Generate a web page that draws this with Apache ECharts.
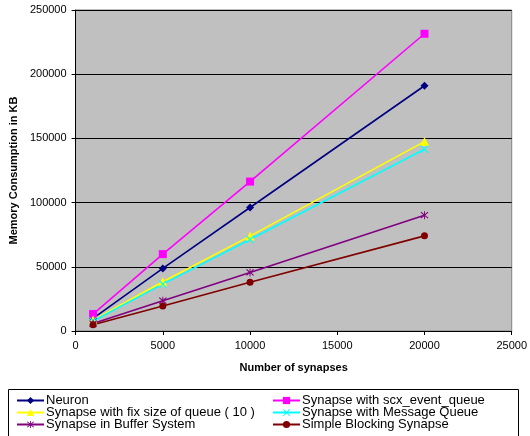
<!DOCTYPE html>
<html>
<head>
<meta charset="utf-8">
<style>
  html, body { margin: 0; padding: 0; background: #fff; }
  #chart { width: 530px; height: 436px; }
</style>
<script src="https://cdn.jsdelivr.net/npm/echarts@6/dist/echarts.min.js"></script>
</head>
<body>
<div id="chart"></div>
<script>
// Number of synapses measured
const synapses = [1000, 5000, 10000, 20000];

// Memory consumption (KB) per implementation
const neuron          = [9900, 48700, 96200, 191000];
const scxEventQueue   = [13200, 59900, 116400, 231500];
const fixSizeQueue    = [8500, 38300, 73900, 147500];
const messageQueue    = [7800, 36500, 71300, 141500];
const bufferSystem    = [5800, 23600, 45600, 90200];
const simpleBlocking  = [4900, 19400, 37900, 74100];

const seriesNames = [
  'Neuron',
  'Synapse with scx_event_queue',
  'Synapse with fix size of queue ( 10 )',
  'Synapse with Message Queue',
  'Synapse in Buffer System',
  'Simple Blocking Synapse'
];

const crossPath = 'path://M0,1 L1,0 L5,4 L9,0 L10,1 L6,5 L10,9 L9,10 L5,6 L1,10 L0,9 L4,5 Z';
const starPath = 'path://M0,1 L1,0 L5,4 L9,0 L10,1 L6,5 L10,9 L9,10 L5,6 L1,10 L0,9 L4,5 Z M4.4,-1 L5.6,-1 L5.6,11 L4.4,11 Z';

function pairs(values) {
  return synapses.map((x, i) => [x, values[i]]);
}

function lineSeries(name, values, color, symbol, size) {
  return {
    name: name,
    type: 'line',
    data: pairs(values),
    symbol: symbol,
    symbolSize: size,
    showSymbol: true,
    lineStyle: { color: color, width: 1.6 },
    itemStyle: { color: color, borderWidth: 0 },
    emphasis: { disabled: true },
    animation: false
  };
}

const fontFamily = 'Liberation Sans, Arial, sans-serif';
const textFont = { fontFamily: fontFamily, fontSize: 11, color: '#000' };

// One legend entry per slot: two columns, three rows
const legendCols = [16, 272];
const legendRows = [394, 406, 418];
const legends = seriesNames.map((name, i) => ({
  data: [name],
  left: legendCols[i % 2],
  top: legendRows[Math.floor(i / 2)],
  padding: 0,
  itemWidth: 27, itemHeight: 9,
  selectedMode: false,
  textStyle: { fontFamily: fontFamily, fontSize: 13, color: '#000', padding: [0, 0, 0, -3] }
}));

const chart = echarts.init(document.getElementById('chart'), null, { renderer: 'canvas' });

chart.setOption({
  backgroundColor: '#ffffff',
  animation: false,
  grid: {
    left: 71, right: 16, top: 10, bottom: 105,
    show: true,
    backgroundColor: '#C0C0C0',
    borderColor: '#808080',
    borderWidth: 1
  },
  xAxis: {
    type: 'value',
    min: 0, max: 25000, interval: 5000,
    name: 'Number of synapses',
    nameLocation: 'middle',
    nameGap: 31,
    nameTextStyle: Object.assign({}, textFont, { fontWeight: 'bold' }),
    axisLine: { show: true, lineStyle: { color: '#000', width: 1 } },
    axisTick: { show: true, inside: false, length: 4, lineStyle: { color: '#000' } },
    axisLabel: Object.assign({ margin: 9, formatter: v => String(v) }, textFont),
    splitLine: { show: false }
  },
  yAxis: {
    type: 'value',
    min: 0, max: 250000, interval: 50000,
    name: 'Memory Consumption in KB',
    nameLocation: 'middle',
    nameGap: 44,
    nameTextStyle: Object.assign({}, textFont, { fontWeight: 'bold' }),
    axisLine: { show: true, lineStyle: { color: '#000', width: 1 } },
    axisTick: { show: true, inside: false, length: 4, lineStyle: { color: '#000' } },
    axisLabel: Object.assign({ margin: 9, formatter: v => String(v) }, textFont),
    splitLine: { show: true, lineStyle: { color: '#000', width: 1 } }
  },
  legend: legends,
  graphic: [
    {
      type: 'rect',
      shape: { x: 8.5, y: 389.5, width: 510, height: 60 },
      style: { fill: null, stroke: '#000', lineWidth: 1 },
      silent: true,
      z: -1
    }
  ],
  series: [
    lineSeries(seriesNames[0], neuron, '#000080', 'diamond', 8),
    lineSeries(seriesNames[1], scxEventQueue, '#FF00FF', 'rect', 8),
    lineSeries(seriesNames[2], fixSizeQueue, '#FFFF00', 'triangle', 9),
    lineSeries(seriesNames[3], messageQueue, '#00FFFF', crossPath, 8),
    lineSeries(seriesNames[4], bufferSystem, '#800080', starPath, 8),
    lineSeries(seriesNames[5], simpleBlocking, '#800000', 'circle', 7)
  ]
});
</script>
</body>
</html>
